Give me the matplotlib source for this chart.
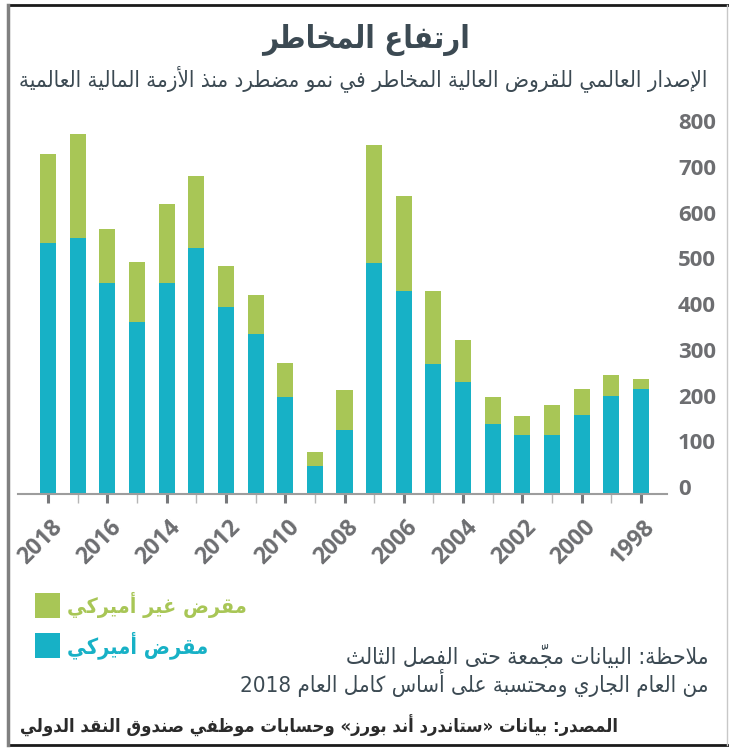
import matplotlib
matplotlib.use("Agg")
import matplotlib.pyplot as plt
import numpy as np
from matplotlib.lines import Line2D
from matplotlib.patches import Rectangle
from matplotlib.transforms import ScaledTranslation, blended_transform_factory

# data (bn USD)
years = list(range(2018, 1997, -1))
us_lender = [549, 560, 462, 376, 462, 538, 409, 350, 212, 61, 140,
             505, 444, 284, 245, 153, 129, 129, 173, 214, 230]
non_us_lender = [195, 228, 118, 132, 172, 158, 90, 85, 75, 31, 88,
                 259, 208, 160, 92, 59, 42, 66, 57, 46, 22]
y_ticks = [0, 100, 200, 300, 400, 500, 600, 700, 800]

TITLE = "ارتفاع المخاطر"
SUBTITLE = "الإصدار العالمي للقروض العالية المخاطر في نمو مضطرد منذ الأزمة المالية العالمية"
LEG_NON_US = "مقرض غير أميركي"
LEG_US = "مقرض أميركي"
NOTE_1 = "ملاحظة: البيانات مجمّعة حتى الفصل الثالث"
NOTE_2 = "من العام الجاري ومحتسبة على أساس كامل العام 2018"
SOURCE = "المصدر: بيانات «ستاندرد أند بورز» وحسابات موظفي صندوق النقد الدولي"

BLUE = "#17b1c6"
GREEN = "#a8c656"
DARK = "#3c4a53"
GREY = "#6d6e71"

W, H = 729, 749

# --- minimal arabic shaping (matplotlib has no bidi / joining) ---
_counts = [2, 2, 2, 2, 4, 2, 4, 2, 4, 4, 4, 4, 4, 2, 2, 2, 2, 4, 4, 4, 4, 4, 4, 4, 4,
           4, 4, 4, 4, 4, 4, 4, 2, 2, 4]
_codes = list(range(0x0622, 0x063B)) + list(range(0x0641, 0x064B))
FORMS = {0x0621: (0xFE80,)}
_cp = 0xFE81
for _c, _n in zip(_codes, _counts):
    FORMS[_c] = tuple(range(_cp, _cp + _n))
    _cp += _n
LAM_ALEF = {0x0622: (0xFEF5, 0xFEF6), 0x0623: (0xFEF7, 0xFEF8),
            0x0625: (0xFEF9, 0xFEFA), 0x0627: (0xFEFB, 0xFEFC)}


def is_mark(o):
    return 0x064B <= o <= 0x065F or o == 0x0670


def jtype(o, forms):
    if is_mark(o):
        return "T"
    if o == 0x0640:
        return "D"
    if forms is None:
        return "U"
    return {1: "U", 2: "R", 4: "D"}[len(forms)]


def ar(s):
    items = []  # [codepoint, forms, type]
    cps = [ord(c) for c in s]
    i = 0
    while i < len(cps):
        o = cps[i]
        if o == 0x0644 and i + 1 < len(cps) and cps[i + 1] in LAM_ALEF:
            items.append([o, LAM_ALEF[cps[i + 1]], "R"])
            i += 2
            continue
        f = FORMS.get(o)
        items.append([o, f, jtype(o, f)])
        i += 1
    out = []
    for k, (o, f, t) in enumerate(items):
        if t not in ("D", "R") or f is None:
            out.append(chr(o))
            continue
        p = k - 1
        while p >= 0 and items[p][2] == "T":
            p -= 1
        n = k + 1
        while n < len(items) and items[n][2] == "T":
            n += 1
        jp = p >= 0 and items[p][2] == "D"
        jn = t == "D" and n < len(items) and items[n][2] in ("D", "R")
        if jp and jn:
            out.append(chr(f[3]))
        elif jp:
            out.append(chr(f[1]))
        elif jn:
            out.append(chr(f[2]))
        else:
            out.append(chr(f[0]))
    clusters = []
    for ch in out:
        if is_mark(ord(ch)) and clusters:
            clusters[-1] += ch
        else:
            clusters.append(ch)
    runs = []
    for c in clusters:
        ltr = c.isascii() and c.isalnum()
        if ltr and runs and runs[-1][0]:
            runs[-1][1].append(c)
        else:
            runs.append([ltr, [c]])
    vis = []
    for ltr, cs in reversed(runs):
        vis.extend(cs)
    return "".join(vis).translate({0xAB: 0xBB, 0xBB: 0xAB})


def px(x, y):
    return x / W, 1 - y / H


fig = plt.figure(figsize=(W / 100, H / 100), dpi=100)
fig.patch.set_facecolor("white")
renderer = fig.canvas.get_renderer()


def put(text, x, y, width, ha, **kw):
    t = fig.text(*px(x, y), ar(text), ha=ha, va="center", fontsize=10,
                 family=["DejaVu Sans"], fontstretch="condensed", **kw)
    w = t.get_window_extent(renderer).width
    t.set_fontsize(10 * width / w)
    return t


# chart
ax = fig.add_axes([18 / W, 1 - 494 / H, (667 - 18) / W, (494 - 110) / H])
ax.bar(years, us_lender, width=0.54, color=BLUE, linewidth=0)
ax.bar(years, non_us_lender, bottom=us_lender, width=0.54, color=GREEN,
       linewidth=0)
ax.set_xlim(2019.012, 1997.123)
ax.set_ylim(0, 840)
for s in ("top", "left", "right"):
    ax.spines[s].set_visible(False)
ax.spines["bottom"].set_color("#9d9d9d")
ax.spines["bottom"].set_linewidth(1.5)

labeled = [y for y in years if y % 2 == 0]
ax.set_xticks(labeled)
ax.set_xticks([y for y in years if y % 2 == 1], minor=True)
ax.set_xticklabels([])
ax.tick_params(axis="x", which="major", length=6.5, width=2.2,
               color="#77787b")
ax.tick_params(axis="x", which="minor", length=6.5, width=1.0,
               color="#b5b5b5")
xlab_tr = blended_transform_factory(ax.transData, ax.transAxes) + \
    ScaledTranslation(-8 / 100, -48 / 100, fig.dpi_scale_trans)
for y in labeled:
    ax.text(y, 0, str(y), transform=xlab_tr, rotation=45, ha="center",
            va="center", rotation_mode="anchor", fontsize=16.5,
            fontweight="bold", family="Open Sans", color=GREY)

ax.yaxis.tick_right()
ax.set_yticks(y_ticks)
ax.set_yticklabels([str(v) for v in y_ticks])
ax.tick_params(axis="y", length=0, pad=8, labelsize=16, labelcolor=GREY)
up = ScaledTranslation(0, 7 / 100, fig.dpi_scale_trans)
for tk in ax.yaxis.get_major_ticks():
    tk.label2.set_fontfamily("Open Sans")
    tk.label2.set_fontweight("bold")
    tk.label2.set_transform(tk.label2.get_transform() + up)

# texts
put(TITLE, 366, 40, 207, "center", fontweight="bold", color=DARK)
put(SUBTITLE, 707, 79, 685, "right", color=DARK)
put(LEG_NON_US, 67, 605, 180, "left", fontweight="bold", color=GREEN)
put(LEG_US, 67, 645, 141, "left", fontweight="bold", color=BLUE)
put(NOTE_1, 708, 657, 361, "right", color=DARK)
put(NOTE_2, 708, 683, 466, "right", color=DARK)
put(SOURCE, 20, 726, 600, "left", fontweight="bold", color="#2b2b2b")

# legend swatches
for color, top in ((GREEN, 593), (BLUE, 633)):
    x0, y0 = px(35, top + 25)
    fig.add_artist(Rectangle((x0, y0), 25 / W, 25 / H, color=color,
                             transform=fig.transFigure, linewidth=0))

# frame
frame = [((8, 728), (5, 5), "#1a1a1a", 2.0),
         ((8, 728), (745, 745), "#1a1a1a", 2.0),
         ((8, 8), (5, 745), "#808080", 2.5),
         ((727, 727), (5, 745), "#c8c8c8", 1.0)]
for xs, ys, c, lw in frame:
    fig.add_artist(Line2D([x / W for x in xs], [1 - y / H for y in ys],
                          color=c, linewidth=lw, transform=fig.transFigure))

fig.savefig("out.png", dpi=100, facecolor="white")
